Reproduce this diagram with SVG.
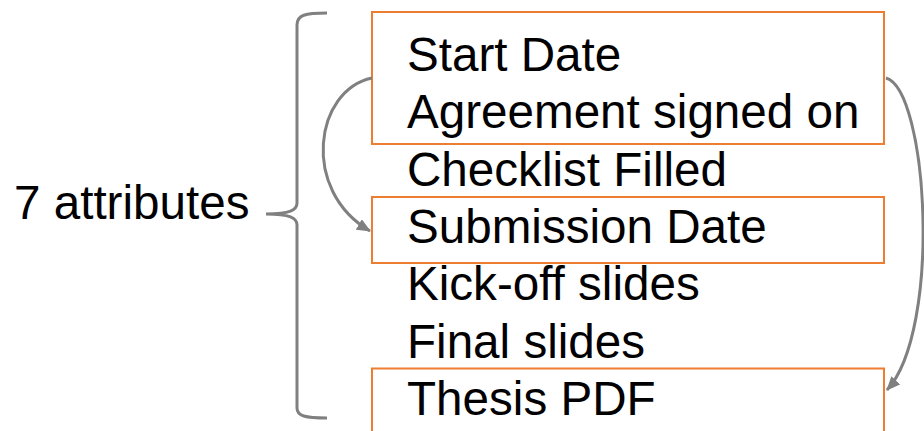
<svg xmlns="http://www.w3.org/2000/svg" width="924" height="431" viewBox="0 0 924 431">
<defs>
<style>
.t{font-family:"Liberation Sans",Arial,sans-serif;font-size:47.6px;fill:#000}
.box{fill:none;stroke:#ED7D31;stroke-width:2}
.gray{fill:none;stroke:#808080;stroke-width:3}
</style>
<marker id="ah" viewBox="0 0 14 12" refX="13" refY="6" markerWidth="14" markerHeight="12" markerUnits="userSpaceOnUse" orient="auto">
<path d="M0,0 L14,6 L0,12 Z" fill="#808080"/>
</marker>
</defs>
<rect width="924" height="431" fill="#fff"/>
<g id="brace">
<path class="gray" d="M327,13 C305,13 297,15 297,25 L297,203 C297,210 290,214 266,214 C290,214 297,218 297,225 L297,408 C297,416 305,418 327,418"/>
</g>
<g id="label">
<text class="t" x="14" y="219">7 attributes</text>
</g>
<g id="box1"><rect class="box" x="372" y="12" width="512" height="132"/></g>
<g id="box2"><rect class="box" x="372" y="197" width="512" height="66"/></g>
<g id="box3"><rect class="box" x="372" y="368.5" width="512" height="80"/></g>
<g id="items">
<text class="t" x="407" y="71">Start Date</text>
<text class="t" x="407" y="128.3">Agreement signed on</text>
<text class="t" x="407" y="185.7">Checklist Filled</text>
<text class="t" x="407" y="243">Submission Date</text>
<text class="t" x="407" y="300.3">Kick-off slides</text>
<text class="t" x="407" y="357.7">Final slides</text>
<text class="t" x="407" y="415">Thesis PDF</text>
</g>
<g id="connectors">
<path class="gray" d="M372,78 C315,90 300,190 370,231" marker-end="url(#ah)"/>
<path class="gray" d="M886,78 C928,90 942,330 887,390" marker-end="url(#ah)"/>
</g>
</svg>
